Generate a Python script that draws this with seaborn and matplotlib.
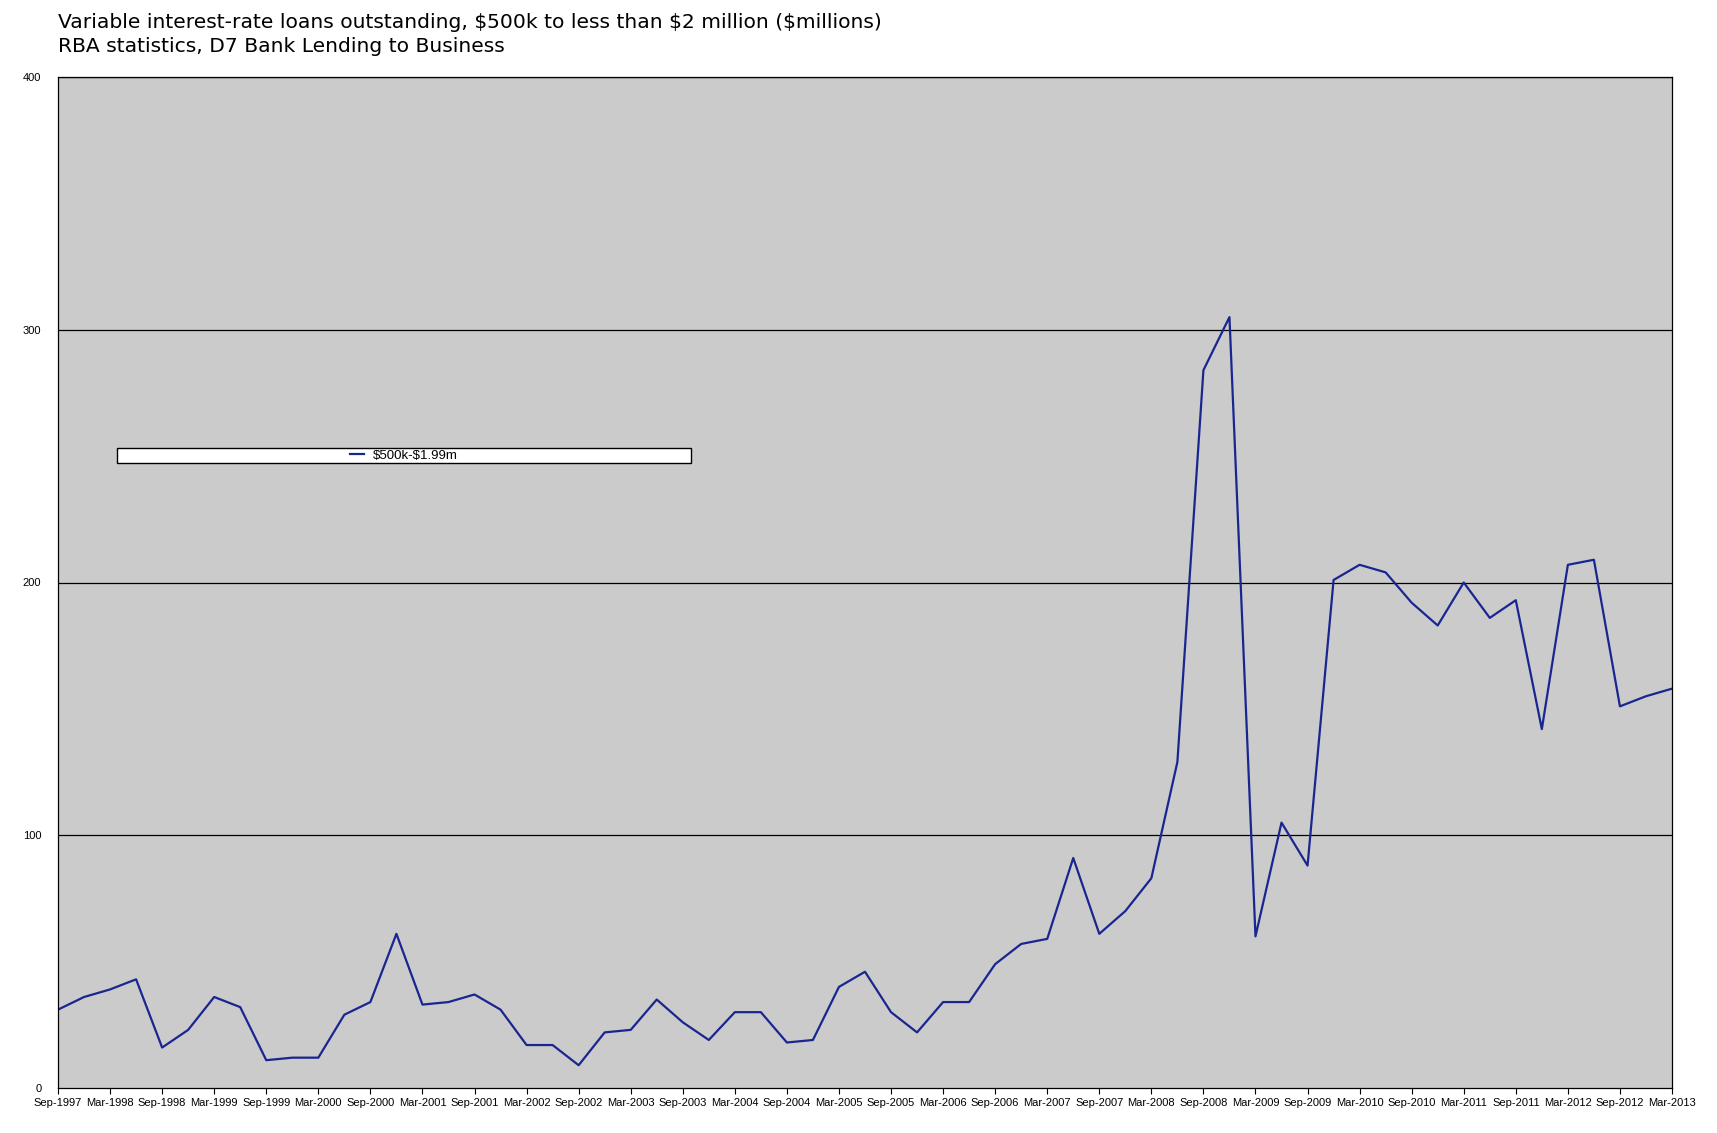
import matplotlib
matplotlib.use("Agg")
import matplotlib.pyplot as plt
import matplotlib.patches as mpatches
import seaborn as sns
import pandas as pd

quarters = [
    "Sep-1997", "Dec-1997", "Mar-1998", "Jun-1998", "Sep-1998", "Dec-1998",
    "Mar-1999", "Jun-1999", "Sep-1999", "Dec-1999", "Mar-2000", "Jun-2000",
    "Sep-2000", "Dec-2000", "Mar-2001", "Jun-2001", "Sep-2001", "Dec-2001",
    "Mar-2002", "Jun-2002", "Sep-2002", "Dec-2002", "Mar-2003", "Jun-2003",
    "Sep-2003", "Dec-2003", "Mar-2004", "Jun-2004", "Sep-2004", "Dec-2004",
    "Mar-2005", "Jun-2005", "Sep-2005", "Dec-2005", "Mar-2006", "Jun-2006",
    "Sep-2006", "Dec-2006", "Mar-2007", "Jun-2007", "Sep-2007", "Dec-2007",
    "Mar-2008", "Jun-2008", "Sep-2008", "Dec-2008", "Mar-2009", "Jun-2009",
    "Sep-2009", "Dec-2009", "Mar-2010", "Jun-2010", "Sep-2010", "Dec-2010",
    "Mar-2011", "Jun-2011", "Sep-2011", "Dec-2011", "Mar-2012", "Jun-2012",
    "Sep-2012", "Dec-2012", "Mar-2013",
]
values = [
    31, 36, 39, 43, 16, 23, 36, 32, 11, 12, 12, 29,
    34, 61, 33, 34, 37, 31, 17, 17, 9, 22, 23, 35,
    26, 19, 30, 30, 18, 19, 40, 46, 30, 22, 34, 34,
    49, 57, 59, 91, 61, 70, 83, 129, 284, 305, 60, 105,
    88, 201, 207, 204, 192, 183, 200, 186, 193, 142, 207, 209,
    151, 155, 158,
]
series_label = "$500k-$1.99m"
title_lines = [
    "Variable interest-rate loans outstanding, $500k to less than $2 million ($millions)",
    "RBA statistics, D7 Bank Lending to Business",
]
y_ticks = [0, 100, 200, 300, 400]

df = pd.DataFrame({"idx": range(len(values)), "quarter": quarters, "value": values})

fig = plt.figure(figsize=(17.17, 11.33), dpi=100)
ax = fig.add_axes([58 / 1717, 1 - 1088 / 1133, (1672 - 58) / 1717, (1088 - 77) / 1133])
ax.set_facecolor("#cbcbcb")

sns.lineplot(data=df, x="idx", y="value", ax=ax, color="#1a2690", linewidth=1.6,
             label=series_label.replace("$", r"\$"))

ax.set_xlim(0, len(values) - 1)
ax.set_ylim(0, 400)
ax.set_xlabel("")
ax.set_ylabel("")

tick_pos = list(range(0, len(values), 2))
ax.set_xticks(tick_pos)
ax.set_xticklabels([quarters[i] for i in tick_pos], fontsize=8, family="Liberation Sans")
ax.set_yticks(y_ticks)
ax.set_yticklabels([str(v) for v in y_ticks], fontsize=8, family="Liberation Sans")
ax.tick_params(axis="x", direction="out", length=4, width=0.8, pad=3)
ax.tick_params(axis="y", length=0, pad=12)

for v in y_ticks[1:]:
    ax.axhline(v, color="black", linewidth=0.9, zorder=1)
for s in ax.spines.values():
    s.set_color("black")
    s.set_linewidth(0.9)

# legend box
rect = mpatches.Rectangle((0.0366, 0.618), 0.3556, 0.0148, transform=ax.transAxes,
                          facecolor="white", edgecolor="black", linewidth=1.0, zorder=3)
ax.add_patch(rect)
leg = ax.legend(loc="center", bbox_to_anchor=(0.2144, 0.6254), frameon=False,
                prop={"family": "Liberation Sans", "size": 9.5}, handlelength=1.0,
                handletextpad=0.7, borderpad=0.1)
leg.set_zorder(4)

fig.text(58 / 1717, 1 - 22 / 1133, title_lines[0], fontsize=14.6, va="center", ha="left",
         family="DejaVu Sans", parse_math=False)
fig.text(58 / 1717, 1 - 46 / 1133, title_lines[1], fontsize=14.6, va="center", ha="left",
         family="DejaVu Sans", parse_math=False)

fig.savefig("out.png", dpi=100)
